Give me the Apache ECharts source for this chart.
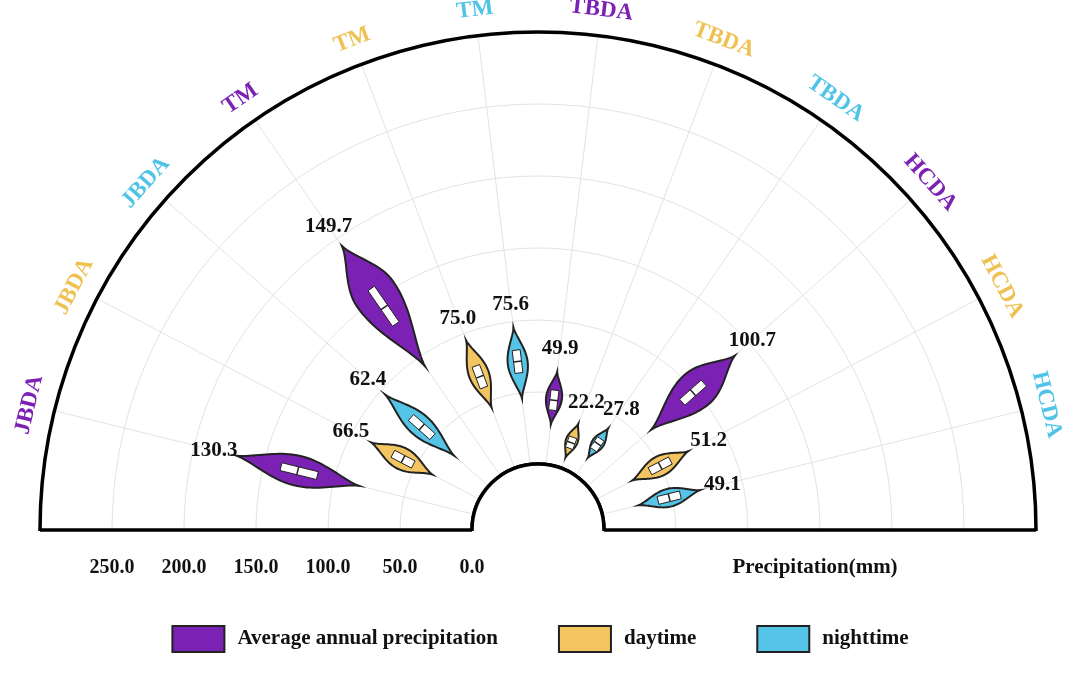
<!DOCTYPE html>
<html><head><meta charset="utf-8">
<script src="https://cdn.jsdelivr.net/npm/echarts@6/dist/echarts.min.js"></script>
<style>html,body{margin:0;padding:0;background:#fff}#c{width:1080px;height:680px}</style>
</head><body><div id="c"></div>
<script>
// categories, in order from left to right around the half circle
const regions = ['JBDA','JBDA','JBDA','TM','TM','TM','TBDA','TBDA','TBDA','HCDA','HCDA','HCDA'];
const groups = ['Average annual precipitation', 'daytime', 'nighttime'];
const groupColors = ['#7b22b4', '#f3c560', '#55c4e6'];
const labelColors = ['#7b22b4', '#efc153', '#4fc4e6'];

// violin values (mm), one per category
const vMin   = [82, 37, 32, 92, 45, 46, 28, 8, 15, 59, 28, 26];
const vMax   = [170, 85, 96, 194, 95, 96, 65, 33, 40, 137, 72, 70];
const q1     = [112, 52, 52, 128, 60, 64, 38, 15, 22, 88, 42, 40];
const median = [126, 60, 62, 142, 68, 72, 45, 19, 27, 98, 50, 48];
const q3     = [138, 68, 72, 158, 76, 80, 52, 23, 31, 108, 58, 56];
const peak   = [0.5, 0.5, 0.5, 0.6, 0.5, 0.5, 0.5, 0.5, 0.5, 0.55, 0.5, 0.5];
const halfW  = [15, 11, 11, 22, 10, 10, 8, 6, 6, 19, 10, 9];
const topLabels = ['130.3','66.5','62.4','149.7','75.0','75.6','49.9','22.2','27.8','100.7','51.2','49.1'];

const radiusTicks = [0, 50, 100, 150, 200, 250];

function renderItem(params, api) {
  const i = api.value(9);
  const a = api.value(0);
  const p0 = api.coord([api.value(1), a]);
  const p1 = api.coord([api.value(2), a]);
  const dx = p1[0] - p0[0], dy = p1[1] - p0[1];
  const len = Math.hypot(dx, dy);
  const ux = dx / len, uy = dy / len, nx = -uy, ny = ux;
  const pk = peak[i], W = halfW[i];
  const left = [], right = [];
  for (let s = 0; s <= 40; s++) {
    const t = s / 40;
    const f = t < pk ? Math.sin(Math.PI / 2 * t / pk) : Math.sin(Math.PI / 2 * (1 - t) / (1 - pk));
    const w = W * Math.pow(Math.max(f, 0), 1.4);
    const x = p0[0] + dx * t, y = p0[1] + dy * t;
    left.push([x + nx * w, y + ny * w]);
    right.unshift([x - nx * w, y - ny * w]);
  }
  const b0 = api.coord([q1[i], a]), b1 = api.coord([q3[i], a]), bm = api.coord([median[i], a]);
  const bw = 4;
  const box = [
    [b0[0] + nx * bw, b0[1] + ny * bw], [b1[0] + nx * bw, b1[1] + ny * bw],
    [b1[0] - nx * bw, b1[1] - ny * bw], [b0[0] - nx * bw, b0[1] - ny * bw]
  ];
  const tp = api.coord([vMax[i] + 16, a]);
  const lp = api.coord([318, a]);
  const theta = Math.PI - a / 13 * Math.PI;   // math angle
  const color = groupColors[i % 3];
  return {
    type: 'group',
    children: [
      { type: 'polygon', shape: { points: left.concat(right) },
        style: { fill: color, stroke: '#222', lineWidth: 2 } },
      { type: 'polygon', shape: { points: box },
        style: { fill: '#fff', stroke: '#222', lineWidth: 1 } },
      { type: 'line', shape: { x1: bm[0] + nx * bw, y1: bm[1] + ny * bw, x2: bm[0] - nx * bw, y2: bm[1] - ny * bw },
        style: { stroke: '#222', lineWidth: 1.5 } },
      { type: 'text', x: tp[0], y: tp[1],
        style: { text: topLabels[i], fill: '#111', font: 'bold 21px "Liberation Serif"', align: 'center', verticalAlign: 'middle' } },
      { type: 'text', x: lp[0], y: lp[1], rotation: theta - Math.PI / 2,
        style: { text: regions[i], fill: labelColors[i % 3], font: 'bold 23px "Liberation Serif"', align: 'center', verticalAlign: 'middle' } }
    ]
  };
}

const series = groups.map((g, gi) => ({
  name: g,
  type: 'custom',
  coordinateSystem: 'polar',
  itemStyle: { color: groupColors[gi], borderColor: '#222', borderWidth: 2 },
  encode: { radius: 1, angle: 0 },
  renderItem: renderItem,
  data: regions.map((r, i) => i).filter(i => i % 3 === gi)
    .map(i => [i + 1, vMin[i], vMax[i], q1[i], median[i], q3[i], 0, 0, 0, i])
}));

const chart = echarts.init(document.getElementById('c'));
chart.setOption({
  animation: false,
  backgroundColor: '#fff',
  polar: { center: [538, 530], radius: [66, 498] },
  angleAxis: {
    type: 'value', min: 0, max: 26, interval: 1, startAngle: 180, clockwise: true,
    axisLine: { lineStyle: { color: '#000', width: 3.5 } },
    axisTick: { show: false }, axisLabel: { show: false },
    splitLine: { lineStyle: { color: '#e3e3e3', width: 1 } }
  },
  radiusAxis: {
    type: 'value', min: 0, max: 300, interval: 50,
    axisLine: { show: false }, axisTick: { show: false }, axisLabel: { show: false },
    splitLine: { lineStyle: { color: '#e3e3e3', width: 1 } }
  },
  legend: {
    bottom: 22, left: 'center', itemWidth: 52, itemHeight: 26, itemGap: 60, icon: 'rect', z: 20,
    textStyle: { fontFamily: 'Liberation Serif', fontWeight: 'bold', fontSize: 21, color: '#111', padding: [0, 0, 0, 8] },
    data: groups
  },
  graphic: [
    { type: 'rect', z: 10, shape: { x: 0, y: 531, width: 1080, height: 150 }, style: { fill: '#fff' } },
    { type: 'line', z: 11, shape: { x1: 40, y1: 530, x2: 472, y2: 530 }, style: { stroke: '#000', lineWidth: 3.5 } },
    { type: 'line', z: 11, shape: { x1: 604, y1: 530, x2: 1036, y2: 530 }, style: { stroke: '#000', lineWidth: 3.5 } },
    { type: 'arc', z: 11, shape: { cx: 538, cy: 530, r: 66, startAngle: Math.PI, endAngle: 2 * Math.PI },
      style: { stroke: '#000', lineWidth: 3.5, fill: '#fff' } },
    { type: 'text', z: 11, x: 815, y: 568, style: { text: 'Precipitation(mm)', font: 'bold 21px "Liberation Serif"', fill: '#111', align: 'center', verticalAlign: 'middle' } }
  ].concat(radiusTicks.map(v => ({
    type: 'text', z: 11, x: 538 - 66 - 1.44 * v, y: 568,
    style: { text: v.toFixed(1), font: 'bold 20px "Liberation Serif"', fill: '#111', align: 'center', verticalAlign: 'middle' }
  }))),
  series: series
});
</script></body></html>
